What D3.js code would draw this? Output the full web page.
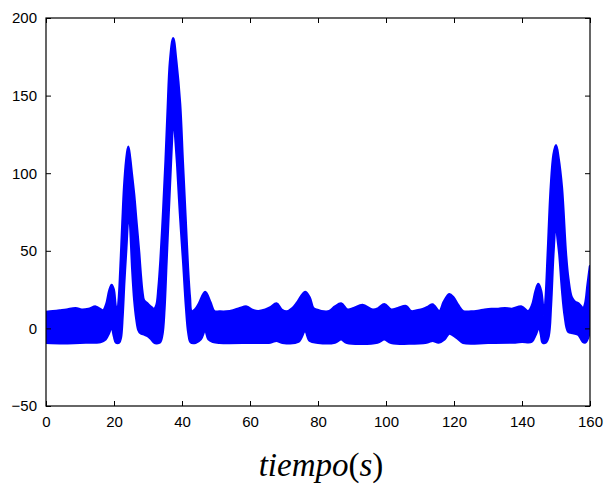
<!DOCTYPE html>
<html><head><meta charset="utf-8">
<script src="https://cdn.jsdelivr.net/npm/d3@7"></script>
<style>html,body{margin:0;padding:0;background:#fff;}</style>
</head><body>
<svg id="chart" width="607" height="486"></svg>
<script>
// ---- data ----
const xTicks = [0, 20, 40, 60, 80, 100, 120, 140, 160];
const yTicks = [-50, 0, 50, 100, 150, 200];
const xLabelParts = [["tiempo", "italic"], ["(", "normal"], ["s", "italic"], [")", "normal"]];
// upper envelope of the oscillating signal [t, value]
const upperEnvelope = [
  [0,10.5],[2,11],[4,11.5],[6,12],[8.7,13],[10.5,12],[12.5,12.5],[14.6,14],[15.8,12.5],[16.8,11.5],
  [17.8,16],[18.6,24],[19.3,28],[19.9,25],[20.5,14],[21.0,11],[21.4,18],[21.9,38],[22.5,68],[23.0,91],
  [23.6,108],[24.2,117],[24.7,110],[25.2,100],[25.9,86],[26.6,68],[27.4,48],[27.8,36],[28.3,24],[28.8,18],
  [29.8,16],[30.8,14],[31.8,12.5],[32.5,15],[33.1,26],[33.7,44],[34.5,76],[35.2,108],[35.8,140],[36.5,172],
  [37.4,187],[38.3,172],[39.4,145],[40.2,108],[41.0,72],[41.7,40],[42.3,20],[42.8,11],[43.8,12],[45,16],
  [46.8,23.5],[48.3,17],[49.5,11],[51,10.8],[53,10.8],[55,11.5],[57,13],[59,14],[60.5,12],[62.4,11],
  [64.5,12],[66,13.5],[67.8,16],[69.3,12],[70.8,10.8],[72.5,13],[74,17],[76.2,23.5],[77.5,20],[78.6,13],
  [79.6,12],[81,11],[83.3,11],[85,14],[86.8,16],[88.7,12],[90.5,13],[93.1,15],[96.1,12],[97.8,13],
  [99.5,15.6],[101.5,12],[103.5,13],[105.9,14.3],[107.4,11],[109,11.5],[110.8,12.3],[112.5,14],[113.7,15.4],[115.7,11],
  [117,17],[118.6,22],[119.8,20],[121.2,15],[122.7,11],[125,10.8],[127,11.2],[129,12],[131,12.5],[133,12.5],
  [135,13],[137,12.5],[139.9,14],[141.8,11],[143.0,15],[144,24],[144.8,28.5],[145.6,24],[146.5,8],[147.0,20],
  [147.6,48],[148.5,91],[149.3,112],[150.0,118],[150.7,110],[151.7,91],[152.9,48],[153.6,32],[154.6,20],[155.6,17],
  [156.6,16],[158.0,13],[158.6,16],[159.3,28],[160,40]
];
// lower envelope of the oscillating signal [t, value]
const lowerEnvelope = [
  [0,-9.2],[5,-9.5],[10,-9.2],[14,-9],[16,-8.8],[17.5,-7],[18.5,-3],[19.3,1],[20.0,-5],[20.6,-9],
  [21.5,-9],[22.0,-6],[22.5,8],[23.0,30],[23.6,52],[24.0,68],[24.4,78],[24.8,66],[25.4,38],[26.0,18],
  [26.6,6],[27.2,-1],[27.8,-3],[29,-4],[30,-5],[31,-7],[31.8,-9],[32.5,-9.5],[33.5,-9],[34.2,-4],
  [34.8,12],[35.4,42],[36.0,72],[36.7,106],[37.2,130],[37.5,141],[37.9,128],[38.6,106],[39.4,75],[40.4,42],
  [41.2,14],[41.9,-3],[42.6,-9],[44.0,-9.2],[45.5,-7],[46.8,-1],[47.8,-7],[49.1,-8.6],[51,-9.2],[60,-9.2],
  [66,-9],[67.8,-7.9],[69.5,-9.2],[74.2,-8.6],[76.2,-1.5],[77.6,-8],[80,-9.2],[85,-9],[86.8,-7],[88.5,-9.2],
  [97.5,-9],[99.5,-7],[101.5,-9.2],[112,-9],[113.7,-7.9],[115.5,-9],[117.2,-7],[118.6,-3.2],[120.8,-6],[122.7,-9.2],
  [130,-9.2],[138,-9],[140,-8.6],[142.8,-8.6],[144,-4],[145,1],[145.6,-4],[146.1,-9],[147.0,-9],[147.8,-5],
  [148.5,15],[149.2,48],[150.0,72],[150.4,60],[151.0,48],[151.8,25],[152.6,8],[153.6,-2],[155,-3],[156.6,-4],
  [157.9,-8.6],[158.6,-9],[159.4,-6],[160,0]
];

// ---- layout ----
const svg = d3.select("#chart");
const L = 46, R = 590, T = 18, B = 406;
const x = d3.scaleLinear().domain([0, 160]).range([L, R]);
const y = d3.scaleLinear().domain([-50, 200]).range([B, T]);

svg.append("defs").append("clipPath").attr("id", "clip")
  .append("rect").attr("x", L).attr("y", T).attr("width", R - L).attr("height", B - T);

const line = d3.line().x(d => x(d[0])).y(d => y(d[1])).curve(d3.curveCatmullRom.alpha(0.5));
const upPath = line(upperEnvelope);
const lowPath = line(lowerEnvelope.slice().reverse());
const band = upPath + "L" + lowPath.slice(1) + "Z";

svg.append("path").attr("d", band)
  .attr("clip-path", "url(#clip)")
  .attr("fill", "#0000ff").attr("stroke", "#0000ff").attr("stroke-width", 2.6).attr("stroke-linejoin", "round");

// axes (MATLAB style, ticks inside on all four sides)
const fmt = d => d < 0 ? "\u2212" + Math.abs(d) : String(d);
const gB = svg.append("g").attr("transform", `translate(0,${B})`)
  .call(d3.axisBottom(x).tickValues(xTicks).tickSizeInner(-5).tickSizeOuter(0).tickPadding(10).tickFormat(fmt));
const gT = svg.append("g").attr("transform", `translate(0,${T})`)
  .call(d3.axisTop(x).tickValues(xTicks).tickSizeInner(-5).tickSizeOuter(0).tickFormat(""));
const gL = svg.append("g").attr("transform", `translate(${L},0)`)
  .call(d3.axisLeft(y).tickValues(yTicks).tickSizeInner(-5).tickSizeOuter(0).tickPadding(9).tickFormat(fmt));
const gR = svg.append("g").attr("transform", `translate(${R},0)`)
  .call(d3.axisRight(y).tickValues(yTicks).tickSizeInner(-5).tickSizeOuter(0).tickFormat(""));
[gB, gT, gL, gR].forEach(g => {
  g.select(".domain").remove();
  g.selectAll("line").attr("stroke", "#000").attr("stroke-width", 1);
  g.selectAll("text").attr("fill", "#000").style("font-family", "'Liberation Sans', Arial, sans-serif").style("font-size", "15px");
});
svg.append("rect").attr("x", L).attr("y", T).attr("width", R - L).attr("height", B - T)
  .attr("fill", "none").attr("stroke", "#000").attr("stroke-width", 1.2);

const title = svg.append("text").attr("x", 321).attr("y", 476).attr("text-anchor", "middle")
  .style("font-family", "'Liberation Serif', 'Times New Roman', serif")
  .style("font-size", "33px").attr("fill", "#000");
title.selectAll("tspan").data(xLabelParts).join("tspan")
  .style("font-style", d => d[1]).text(d => d[0]);
</script>
</body></html>
